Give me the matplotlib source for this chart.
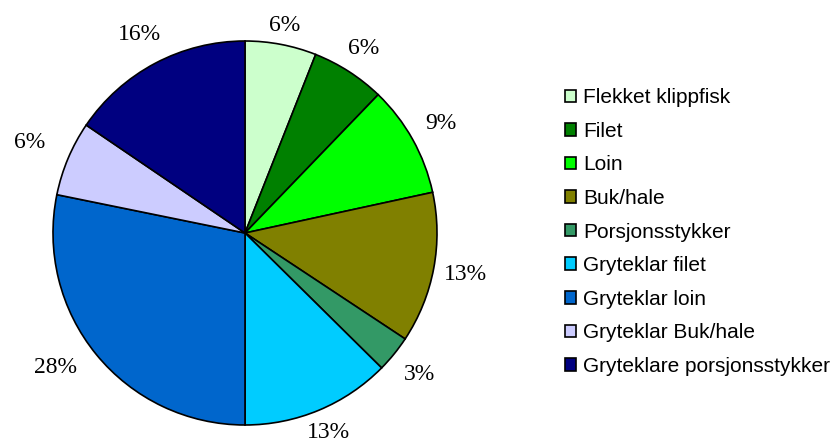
import matplotlib
matplotlib.use("Agg")
import matplotlib.pyplot as plt
import numpy as np

categories = ["Flekket klippfisk", "Filet", "Loin", "Buk/hale", "Porsjonsstykker",
              "Gryteklar filet", "Gryteklar loin", "Gryteklar Buk/hale",
              "Gryteklare porsjonsstykker"]
values = [6.0, 6.2, 9.4, 12.7, 3.1, 12.6, 28.2, 6.3, 15.5]
colors = ["#CCFFCC", "#008000", "#00FF00", "#808000", "#339966",
          "#00CCFF", "#0066CC", "#CCCCFF", "#000080"]
# label distance (in radii) and angular nudge (deg) for each percentage label
label_dist = [1.10, 1.14, 1.17, 1.17, 1.17, 1.125, 1.21, 1.22, 1.17]
label_nudge = [0, 0, 0, 0, 0, 0, -4, 0, 0]

W, H = 834, 442
fig = plt.figure(figsize=(W / 100, H / 100), dpi=100)
cx, cy, r = 245, 233, 192
ax = fig.add_axes([(cx - r) / W, (H - cy - r) / H, 2 * r / W, 2 * r / H])

wedges, texts, autotexts = ax.pie(
    values, colors=colors, startangle=90, counterclock=False,
    autopct=lambda p: f"{int(p + 0.5)}%", pctdistance=1.16,
    wedgeprops=dict(edgecolor="black", linewidth=1.2),
    textprops=dict(family="Liberation Serif", fontsize=17, color="black"),
)
for w, t, d, n in zip(wedges, autotexts, label_dist, label_nudge):
    ang = np.deg2rad((w.theta1 + w.theta2) / 2 + n)
    t.set_position((d * np.cos(ang), d * np.sin(ang)))
    t.set_clip_on(False)
ax.set_xlim(-1, 1)
ax.set_ylim(-1, 1)
ax.set_aspect("equal")
ax.axis("off")

leg = fig.legend(wedges, categories, loc="center left",
                 bbox_to_anchor=(565 / W, 1 - 232 / H),
                 frameon=False, borderpad=0, borderaxespad=0,
                 handlelength=0.55, handleheight=0.55, handletextpad=0.33,
                 labelspacing=0.70,
                 prop=dict(family="Liberation Sans", size=15))

fig.savefig("out.png", dpi=100)
